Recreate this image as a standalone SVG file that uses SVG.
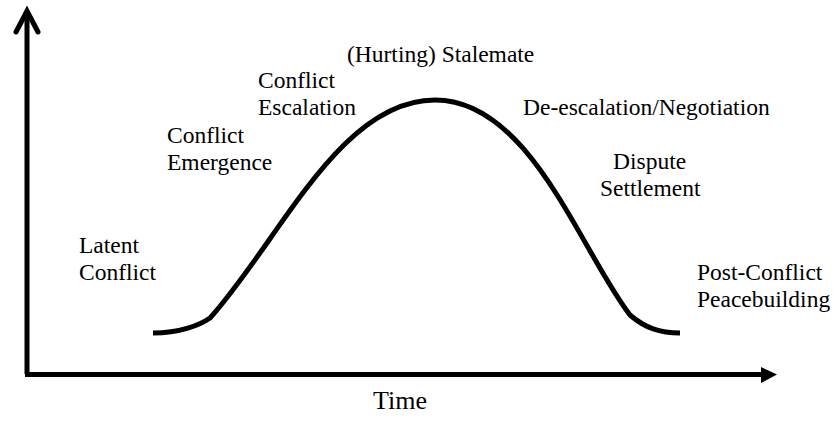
<svg xmlns="http://www.w3.org/2000/svg" width="838" height="441" viewBox="0 0 838 441">
<style>
text{font-family:'Liberation Serif','Times New Roman',serif;font-size:23.5px;fill:#000}
.ax{stroke:#000;stroke-width:5;fill:none}
</style>
<rect width="838" height="441" fill="#fff"/>
<g id="connectors">
<path class="ax" d="M27,14 V374"/>
<path class="ax" d="M16,32 L27,11 L38,32" stroke-linecap="round" stroke-linejoin="miter"/>
<path class="ax" d="M25,374.5 H764"/>
<polygon points="761,367 777,374.5 761,383" fill="#000"/>
<path class="ax" d="M153,333 C180,333 200,325 210,318 C280,240 340,100 435,100 C530,100 580,250 630,315 C645,328 660,333 680,333"/>
</g>
<g id="latent"><text x="79" y="253">Latent</text><text x="79" y="280">Conflict</text></g>
<g id="emergence"><text x="167" y="143">Conflict</text><text x="167" y="170">Emergence</text></g>
<g id="escalation"><text x="258" y="88">Conflict</text><text x="258" y="115">Escalation</text></g>
<g id="stalemate"><text x="347" y="62">(Hurting) Stalemate</text></g>
<g id="deescalation"><text x="523" y="115">De-escalation/Negotiation</text></g>
<g id="settlement"><text x="613" y="169">Dispute</text><text x="600" y="196">Settlement</text></g>
<g id="post"><text x="697" y="280">Post-Conflict</text><text x="697" y="307">Peacebuilding</text></g>
<g id="time"><text x="373" y="409" style="font-size:26px">Time</text></g>
</svg>
